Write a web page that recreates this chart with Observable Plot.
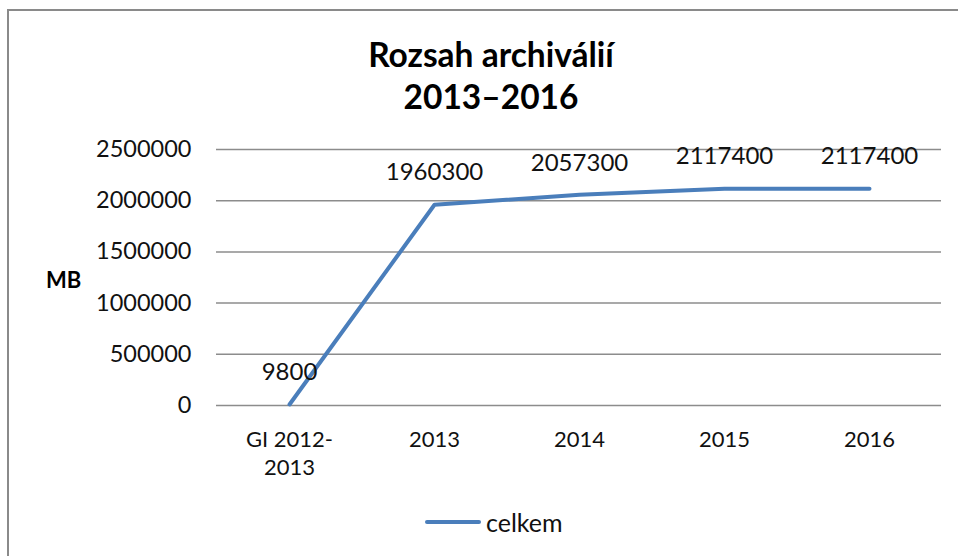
<!DOCTYPE html>
<html>
<head>
<meta charset="utf-8">
<script src="https://cdn.jsdelivr.net/npm/d3@7"></script>
<script src="https://cdn.jsdelivr.net/npm/@observablehq/plot@0.6"></script>
<style>
  html, body { margin: 0; padding: 0; background: #fff; }
  #wrap { position: relative; width: 958px; height: 556px; overflow: hidden; background: #fff; font-family: Lato, "Open Sans", sans-serif; }
  #frame { position: absolute; left: 7px; top: 9px; width: 1000px; height: 600px; border: 2px solid #8a8a8a; box-sizing: border-box; }
  #title { position: absolute; left: 0; width: 982px; top: 33px; text-align: center; font-weight: bold; font-size: 33.5px; line-height: 42px; color: #000; }
  #ylabel { position: absolute; left: 46px; top: 266px; font-weight: bold; font-size: 22px; color: #000; }
  #legend { position: absolute; left: 425px; top: 507px; display: flex; align-items: center; font-size: 25px; color: #111; }
  #legend .sw { width: 56px; height: 4px; background: #4a7ebb; margin-right: 5px; border-radius: 2px; }
  #chart { position: absolute; left: 0; top: 0; }
</style>
</head>
<body>
<div id="wrap">
  <div id="frame"></div>
  <div id="chart"></div>
  <div id="title">Rozsah archiválií<br>2013–2016</div>
  <div id="ylabel">MB</div>
  <div id="legend"><div class="sw"></div><span>celkem</span></div>
</div>
<script>
const categories = ["GI 2012-\n2013", "2013", "2014", "2015", "2016"];
const celkem = [9800, 1960300, 2057300, 2117400, 2117400];
const yTicks = [0, 500000, 1000000, 1500000, 2000000, 2500000];
const seriesName = "celkem";

const data = categories.map((c, i) => ({cat: c, value: celkem[i]}));

const chart = Plot.plot({
  width: 958,
  height: 556,
  marginLeft: 216,
  marginRight: 17,
  marginTop: 149,
  marginBottom: 151,
  style: {fontFamily: "Lato, 'Open Sans', sans-serif", fontSize: "22px", color: "#111", background: "transparent"},
  x: {type: "point", domain: categories, padding: 0.5, label: null},
  y: {domain: [0, 2500000], label: null},
  marks: [
    Plot.ruleY(yTicks, {stroke: "#8c8c8c", strokeWidth: 1.5}),
    Plot.axisY({ticks: yTicks, tickSize: 0, tickPadding: 25, tickFormat: d => String(d), fontSize: 23.5, label: null}),
    Plot.axisX({tickSize: 0, tickPadding: 21, fontSize: 22, lineHeight: 1.3, label: null, textAnchor: "middle"}),
    Plot.line(data, {x: "cat", y: "value", stroke: "#4a7ebb", strokeWidth: 4, curve: "linear"}),
    Plot.text(data, {x: "cat", y: "value", text: d => String(d.value), dy: -32, fontSize: 24, fill: "#111"})
  ]
});
document.getElementById("chart").appendChild(chart);
</script>
</body>
</html>
